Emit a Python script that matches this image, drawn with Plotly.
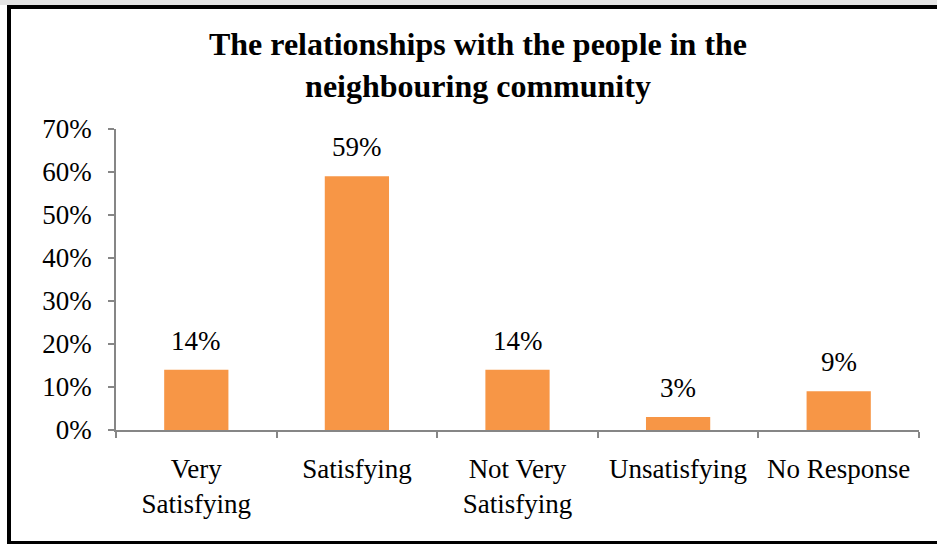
import plotly.graph_objects as go

# Survey responses: relationships with the neighbouring community
categories = ["Very<br>Satisfying", "Satisfying", "Not Very<br>Satisfying", "Unsatisfying", "No Response"]
percent_values = [14, 59, 14, 3, 9]
y_tick_values = [0, 10, 20, 30, 40, 50, 60, 70]
y_tick_labels = [f"{v}%" for v in y_tick_values]

W, H = 937, 544
L, R, T, B = 116, 18, 129, 114
plot_w, plot_h = W - L - R, H - T - B

def px_x(px):
    return (px - L) / plot_w

def px_y(py):
    return (H - B - py) / plot_h

BAR_COLOR = "#F79646"
AXIS_COLOR = "#868686"
FONT = "Liberation Serif"

fig = go.Figure()
fig.add_trace(go.Bar(
    x=categories,
    y=percent_values,
    width=0.4,
    marker=dict(color=BAR_COLOR, line=dict(width=0)),
    hoverinfo="skip",
))

# value labels above each bar
for cat, v in zip(categories, percent_values):
    fig.add_annotation(
        x=cat, y=v, text=f"{v}%", showarrow=False,
        yanchor="bottom", yshift=12,
        font=dict(family=FONT, size=27, color="#000000"),
    )

# outer frame
fig.add_shape(type="rect", xref="paper", yref="paper",
              x0=px_x(-5), x1=px_x(W + 5), y0=px_y(5), y1=px_y(-5),
              fillcolor="#e4e4e4", line=dict(width=0), layer="below")
fig.add_shape(type="rect", xref="paper", yref="paper",
              x0=px_x(9), x1=px_x(W + 10), y0=px_y(543), y1=px_y(7),
              fillcolor="#ffffff", line=dict(color="#000000", width=4), layer="below")

fig.update_layout(
    width=W, height=H,
    margin=dict(l=L, r=R, t=T, b=B, pad=0),
    paper_bgcolor="#ffffff",
    plot_bgcolor="rgba(0,0,0,0)",
    showlegend=False,
    font=dict(family=FONT, size=27, color="#000000"),
    title=dict(
        text="The relationships with the people in the<br>neighbouring community",
        font=dict(family=FONT, size=32, color="#000000", weight="bold"),
        x=478 / W, xanchor="center", xref="container",
        y=1 - 55 / H, yanchor="top", yref="container",
    ),
    bargap=0.6,
    xaxis=dict(
        type="category",
        showgrid=False, zeroline=False,
        showline=True, linecolor=AXIS_COLOR, linewidth=1.5,
        ticks="outside", tickson="boundaries", ticklen=6,
        tickcolor=AXIS_COLOR, tickwidth=1.5,
        tickfont=dict(family=FONT, size=27, color="#000000"),
        ticklabelstandoff=14,
    ),
    yaxis=dict(
        range=[0, 70],
        tickvals=y_tick_values, ticktext=y_tick_labels,
        showgrid=False, zeroline=False,
        showline=True, linecolor=AXIS_COLOR, linewidth=1.5,
        ticks="outside", ticklen=6, tickcolor=AXIS_COLOR, tickwidth=1.5,
        tickfont=dict(family=FONT, size=27, color="#000000"),
        ticklabelstandoff=11,
    ),
)

fig.write_html("out.html")
